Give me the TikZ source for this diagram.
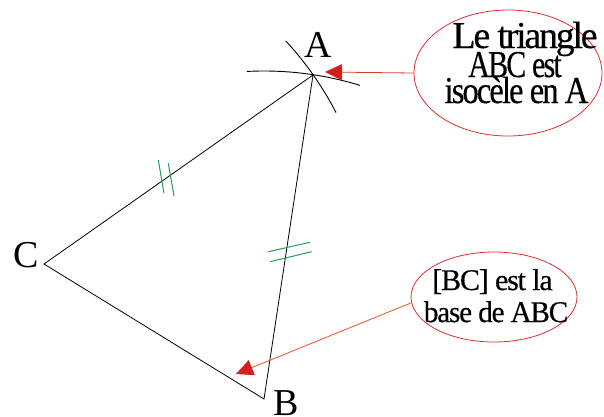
\documentclass[tikz,border=0pt]{standalone}
\usepackage{fontspec}
\setmainfont{Liberation Serif}
\newfontfamily\tightfont[LetterSpace=-6,FakeBold=0.4]{Liberation Serif}
\newfontfamily\tightfontB[LetterSpace=-4,FakeBold=0.4]{Liberation Serif}
\usetikzlibrary{arrows.meta,shapes.geometric}
\definecolor{tickgreen}{RGB}{30,160,80}
\definecolor{ellred}{RGB}{225,45,45}
\definecolor{headred}{RGB}{215,30,30}
\definecolor{lineredA}{RGB}{220,60,40}
\definecolor{lineredB}{RGB}{235,85,35}
\newcommand\sqz[2]{\scalebox{#1}[1]{#2}}
\tikzset{
  seg/.style={draw=black, line width=0.8pt},
  compass arc/.style={draw=black, line width=0.9pt},
  tickmark/.style={draw=tickgreen, line width=1pt},
  bubble/.style={ellipse, draw=ellred, line width=0.8pt, inner sep=0pt},
  bigtxt/.style={inner sep=0pt, anchor=base, font=\tightfont\fontsize{38}{38}\selectfont},
  medtxt/.style={inner sep=0pt, anchor=base, font=\tightfontB\fontsize{30}{30}\selectfont},
  vlabel/.style={inner sep=0pt, anchor=base, font=\fontsize{38}{38}\selectfont},
  pointer/.style={line width=0.8pt, -{Triangle[length=17pt,width=16pt,fill=headred,color=headred]}},
}
\begin{document}
\begin{tikzpicture}[x=1pt,y=-1pt]
\useasboundingbox (0,0) rectangle (604,416);
% vertices
\coordinate (A) at (313,75);
\coordinate (B) at (264,399);
\coordinate (C) at (44,264);
\draw[seg] (C) -- (A) -- (B) -- cycle;
% compass arcs
\draw[compass arc] (B) ++(-93:328) arc[start angle=-93, end angle=-73, radius=328];
\draw[compass arc] (C) ++(-42.7:329) arc[start angle=-42.7, end angle=-27.4, radius=329];
% equal-length marks
\draw[tickmark] (158.3,160) -- (164,193.3);
\draw[tickmark] (168.3,163.3) -- (174,196);
\draw[tickmark] (268.3,251.7) -- (310,242.3);
\draw[tickmark] (270,261.7) -- (311.7,251.7);
% vertex labels
\node[vlabel] (lA) at (318,57) {A};
\node[vlabel] (lC) at (26,267) {C};
\node[vlabel] (lB) at (286.5,415) {B};
% bubbles
\node[bubble, minimum width=188pt, minimum height=126pt] (e1) at (508,73) {};
\node[bigtxt] (t11) at (525,48) {\sqz{1.0}{Le triangle}};
\node[bigtxt] (t12) at (515,77) {\sqz{0.79}{ABC est}};
\node[bigtxt] (t13) at (516.5,103) {\sqz{0.86}{isocèle en A}};
\node[bubble, minimum width=166pt, minimum height=90pt] (e2) at (494,297) {};
\node[medtxt] (t21) at (492.5,290) {\sqz{1.0}{[BC] est la}};
\node[medtxt] (t22) at (496,322) {\sqz{0.97}{base de ABC}};
% pointers
\coordinate (tip1) at (325,72);
\coordinate (tip2) at (236,374);
\draw[pointer, draw=lineredA] (e1.west) -- (tip1);
\draw[pointer, draw=lineredB] (e2.184) -- (tip2);
\end{tikzpicture}
\end{document}
